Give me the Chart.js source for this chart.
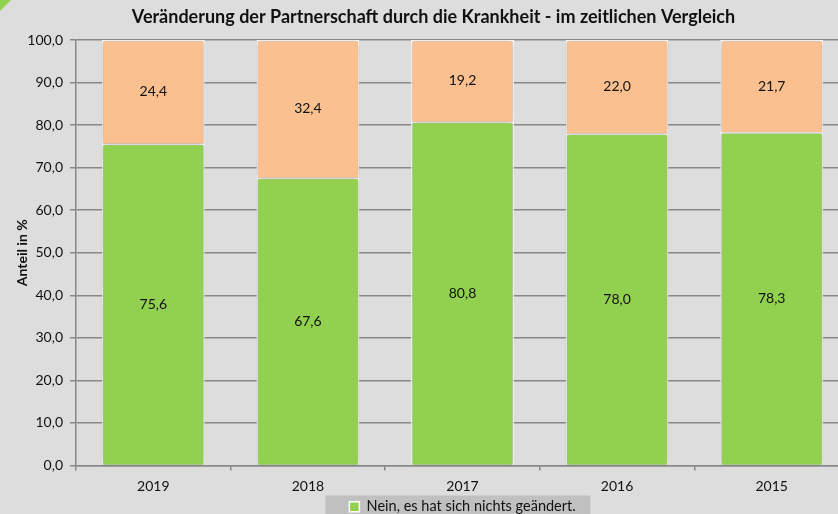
<!DOCTYPE html>
<html>
<head>
<meta charset="utf-8">
<script src="https://cdn.jsdelivr.net/npm/chart.js@4"></script>
<style>
    html, body { margin: 0; padding: 0; background: #dddddd; overflow: hidden; }
    #wrap { position: relative; width: 838px; height: 514px; overflow: hidden; }
    #box { position: absolute; left: 0; top: 0; width: 867px; height: 524px; }
    #corner { position: absolute; left: 0; top: 0; width: 11px; height: 11px; background: #92d050; clip-path: polygon(0 0, 100% 0, 0 100%); }
</style>
</head>
<body>
<div id="wrap">
    <div id="box"><canvas id="chart"></canvas></div>
    <div id="corner"></div>
</div>
<script>
// Survey years and shares (percent)
const years = ['2019', '2018', '2017', '2016', '2015'];
const unchanged = [75.6, 67.6, 80.8, 78.0, 78.3];
const changed = [24.4, 32.4, 19.2, 22.0, 21.7];

const font = 'Lato, "Open Sans", sans-serif';
const gridColor = '#878787';
const textColor = '#111111';

const fmt = v => Number(v).toFixed(1).replace('.', ',');

// Soft shadow round the bars
const barShadow = {
    id: 'barShadow',
    beforeDatasetsDraw(chart) {
        const ctx = chart.ctx;
        ctx.save();
        ctx.shadowColor = 'rgba(0, 0, 0, 0.35)';
        ctx.shadowBlur = 5;
        ctx.shadowOffsetX = 0;
        ctx.shadowOffsetY = 0;
    },
    afterDatasetsDraw(chart) {
        chart.ctx.restore();
    }
};

// Value in the middle of every segment
const valueLabels = {
    id: 'valueLabels',
    afterDatasetsDraw(chart) {
        const ctx = chart.ctx;
        ctx.save();
        ctx.font = `14px ${font}`;
        ctx.fillStyle = textColor;
        ctx.textAlign = 'center';
        ctx.textBaseline = 'middle';
        chart.data.datasets.forEach((ds, i) => {
            chart.getDatasetMeta(i).data.forEach((bar, j) => {
                ctx.fillText(fmt(ds.data[j]), bar.x, (bar.y + bar.base) / 2);
            });
        });
        ctx.restore();
    }
};

// Grey panel behind the legend entry
const legendPanel = {
    id: 'legendPanel',
    beforeDraw(chart) {
        const boxes = chart.legend && chart.legend.legendHitBoxes;
        if (!boxes || !boxes.length) return;
        const hb = boxes[0];
        const ctx = chart.ctx;
        ctx.save();
        ctx.fillStyle = '#c0c0c0';
        ctx.fillRect(hb.left - 24, hb.top - 4, 265, 40);
        ctx.restore();
    }
};

new Chart(document.getElementById('chart'), {
    type: 'bar',
    data: {
        labels: years,
        datasets: [
            {
                label: 'Nein, es hat sich nichts geändert.',
                data: unchanged,
                backgroundColor: '#92d050',
                borderColor: '#ffffff',
                borderWidth: 1.5
            },
            {
                label: 'Ja, es hat sich etwas geändert.',
                data: changed,
                backgroundColor: '#fac090',
                borderColor: '#ffffff',
                borderWidth: 1.5
            }
        ]
    },
    options: {
        responsive: true,
        maintainAspectRatio: false,
        animation: false,
        barPercentage: 0.666,
        categoryPercentage: 1,
        layout: {
            padding: { left: 18, right: 18, top: 0, bottom: 0 }
        },
        plugins: {
            title: {
                display: true,
                text: 'Veränderung der Partnerschaft durch die Krankheit - im zeitlichen Vergleich',
                color: textColor,
                font: { family: font, size: 18, weight: 'bold', lineHeight: 1.2 },
                padding: { top: 6, bottom: 12.4 }
            },
            legend: {
                position: 'bottom',
                fullSize: false,
                labels: {
                    filter: item => item.datasetIndex === 0,
                    boxWidth: 10,
                    boxHeight: 10,
                    color: textColor,
                    font: { family: font, size: 14.5 },
                    padding: 8
                }
            },
            tooltip: { enabled: false }
        },
        scales: {
            x: {
                stacked: true,
                afterFit: scale => { scale.height = 26; },
                grid: {
                    offset: true,
                    drawOnChartArea: false,
                    drawTicks: true,
                    tickLength: 5,
                    color: gridColor,
                    lineWidth: 1.5
                },
                border: { color: gridColor, width: 1.5 },
                ticks: {
                    color: textColor,
                    font: { family: font, size: 14 },
                    padding: 8
                }
            },
            y: {
                stacked: true,
                min: 0,
                max: 100,
                afterFit: scale => { scale.width = 58; },
                grid: {
                    color: gridColor,
                    lineWidth: 1.5,
                    tickLength: 6
                },
                border: { color: gridColor, width: 1.5 },
                ticks: {
                    stepSize: 10,
                    color: textColor,
                    font: { family: font, size: 14 },
                    padding: 7,
                    callback: v => fmt(v)
                },
                title: {
                    display: true,
                    text: 'Anteil in %',
                    color: textColor,
                    font: { family: font, size: 14, weight: 'bold', lineHeight: 1.2 },
                    padding: { top: -4.4, bottom: 0 }
                }
            }
        }
    },
    plugins: [barShadow, valueLabels, legendPanel]
});
</script>
</body>
</html>
